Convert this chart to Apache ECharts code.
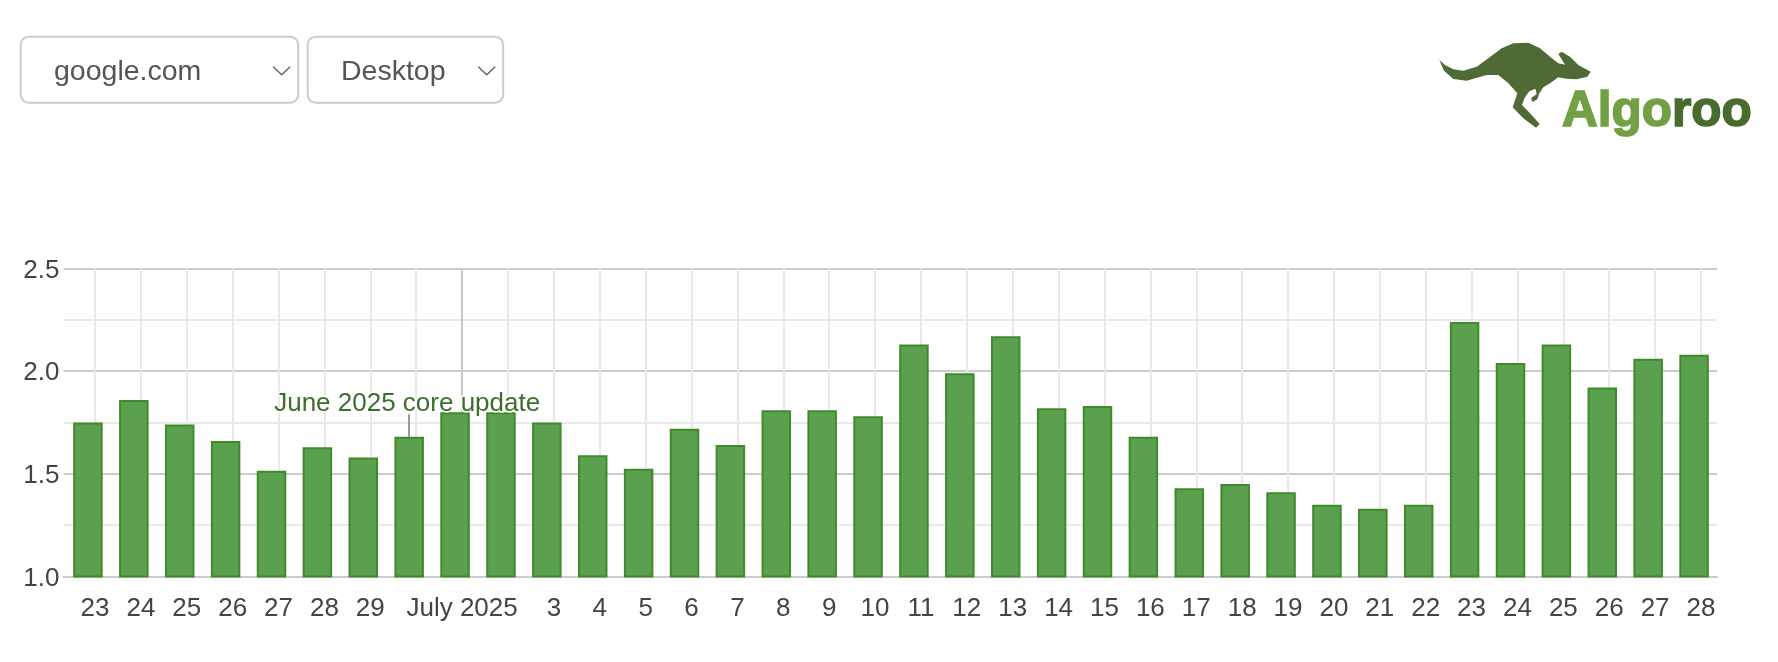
<!DOCTYPE html>
<html>
<head>
<meta charset="utf-8">
<style>html,body{margin:0;padding:0;background:#fff}#c{width:1778px;height:662px}</style>
<script src="https://cdn.jsdelivr.net/npm/echarts@6/dist/echarts.min.js"></script>
</head>
<body>
<div id="c"></div>
<script>
const dayKeys = ['Jun 23','Jun 24','Jun 25','Jun 26','Jun 27','Jun 28','Jun 29','Jun 30','Jul 1','Jul 2','Jul 3','Jul 4','Jul 5','Jul 6','Jul 7','Jul 8','Jul 9','Jul 10','Jul 11','Jul 12','Jul 13','Jul 14','Jul 15','Jul 16','Jul 17','Jul 18','Jul 19','Jul 20','Jul 21','Jul 22','Jul 23','Jul 24','Jul 25','Jul 26','Jul 27','Jul 28'];
const tickLabels = ['23','24','25','26','27','28','29','','July 2025','','3','4','5','6','7','8','9','10','11','12','13','14','15','16','17','18','19','20','21','22','23','24','25','26','27','28'];
const values = [1.75,1.86,1.74,1.66,1.515,1.63,1.58,1.68,1.80,1.80,1.75,1.59,1.525,1.72,1.64,1.81,1.81,1.78,2.13,1.99,2.17,1.82,1.83,1.68,1.43,1.45,1.41,1.35,1.33,1.35,2.24,2.04,2.13,1.92,2.06,2.08];
const annotationLabel = 'June 2025 core update';
const annotationDay = 'Jun 30';
const annotationEnd = 1.79;
const monthTick = 'Jul 1';
const selectors = ['google.com','Desktop'];

const FONT = '"Liberation Sans", Arial, sans-serif';
const chart = echarts.init(document.getElementById('c'), null, {renderer:'canvas'});
const top_ = 268.5, h = 308;

function yAxis(grid, show){
  return {type:'value', gridIndex:grid, min:1, max:2.5, interval:0.5, show:true,
    axisLine:{show:false}, axisTick:{show:false},
    axisLabel: show ? {show:true, color:'#444', fontFamily:FONT, fontSize:26, margin:4, verticalAlign:'top', lineHeight:4, formatter:v=>v.toFixed(1)} : {show:false},
    splitLine:{show:show, lineStyle:{color:'#cccccc', width:2}},
    minorTick:{show:false, splitNumber:2},
    minorSplitLine:{show:show, lineStyle:{color:'#e9e9e9', width:2}}};
}
function box(x,y,w,h2,text,tx){
  return [
    {type:'rect', shape:{x,y,width:w,height:h2,r:8}, style:{fill:'#fff',stroke:'#cccccc',lineWidth:2}},
    {type:'text', x:tx, y:y+h2/2+2, style:{text, fill:'#555', fontFamily:FONT, fontSize:28.5, verticalAlign:'middle', textAlign:'left'}},
    {type:'polyline', shape:{points:[[x+w-25,y+30],[x+w-16.5,y+38],[x+w-8,y+30]]}, style:{stroke:'#666',lineWidth:1.5,fill:null}}
  ];
}
const roo = [[28,90],[45,105],[70,118],[100,122],[140,110],[175,85],[215,55],[250,40],[295,38],[330,55],[360,80],[385,100],[405,104],[385,72],[395,65],[420,80],[445,105],[482,125],[472,140],[440,148],[410,146],[385,142],[360,160],[340,172],[328,190],[322,208],[308,216],[303,205],[320,192],[316,176],[298,184],[284,203],[276,225],[300,250],[329,282],[318,293],[280,265],[248,232],[262,190],[235,160],[205,135],[170,135],[110,152],[70,147],[42,122]];

chart.setOption({
  animation:false,
  backgroundColor:'#fff',
  grid:[
    {left:63.5, right:61, top:top_, height:h},
    {left:65, right:61, top:top_, height:h},
    {left:95, width:1606, top:top_, height:h}
  ],
  xAxis:[
    {type:'category', gridIndex:0, data:dayKeys, axisLine:{show:true,lineStyle:{color:'#cccccc',width:2}}, axisTick:{show:false}, axisLabel:{show:false}, splitLine:{show:false}},
    {type:'category', gridIndex:1, data:dayKeys, show:false},
    {type:'category', gridIndex:2, data:tickLabels, boundaryGap:false, axisLine:{show:false}, axisTick:{show:false},
      axisLabel:{show:true, interval:0, hideOverlap:false, color:'#444', fontFamily:FONT, fontSize:26, margin:19},
      splitLine:{show:true, interval:0, lineStyle:{color:'#e9e9e9', width:2}}}
  ],
  yAxis:[yAxis(0,true), yAxis(1,false), yAxis(2,false)],
  series:[
    {type:'line', xAxisIndex:2, yAxisIndex:2, data:[], silent:true, z:1,
      markLine:{silent:true, symbol:'none', animation:false, z:1, label:{show:false},
        lineStyle:{color:'#c8c8c8', width:2, type:'solid'}, data:[{xAxis:dayKeys.indexOf(monthTick)}]}},
    {type:'bar', xAxisIndex:1, yAxisIndex:1, data:values, barWidth:29.5, z:2,
      itemStyle:{color:'#5ba04e', borderColor:'#408a2c', borderWidth:2},
      markLine:{silent:true, symbol:'none', animation:false, z:5,
        lineStyle:{color:'#999', width:2, type:'solid'},
        label:{show:true, position:'end', formatter:annotationLabel, color:'#3c6e2e', fontFamily:FONT, fontSize:26,
          textBorderColor:'#fff', textBorderWidth:3, offset:[-2,3.5], distance:1},
        data:[[{xAxis:dayKeys.indexOf(annotationDay), yAxis:values[dayKeys.indexOf(annotationDay)]},
               {xAxis:dayKeys.indexOf(annotationDay), yAxis:annotationEnd}]]}}
  ],
  graphic:[
    ...box(20.7,36.7,277.5,66,selectors[0],54),
    ...box(307.7,36.7,195.5,66,selectors[1],341),
    {type:'polygon', x:1430, y:30, scaleX:1/3, scaleY:1/3, shape:{points:roo}, style:{fill:'#4f6a35'}},
    {type:'text', x:1562, y:137, style:{text:'{a|Algo}{b|roo}', fontFamily:FONT, fontWeight:'bold', verticalAlign:'bottom', textAlign:'left',
      rich:{a:{fill:'#72a044',stroke:'#72a044',lineWidth:1.6,fontFamily:FONT,fontWeight:'bold',fontSize:49.5},b:{fill:'#4a6b2e',stroke:'#4a6b2e',lineWidth:1.6,fontFamily:FONT,fontWeight:'bold',fontSize:49.5}}}}
  ]
});
</script>
</body>
</html>
